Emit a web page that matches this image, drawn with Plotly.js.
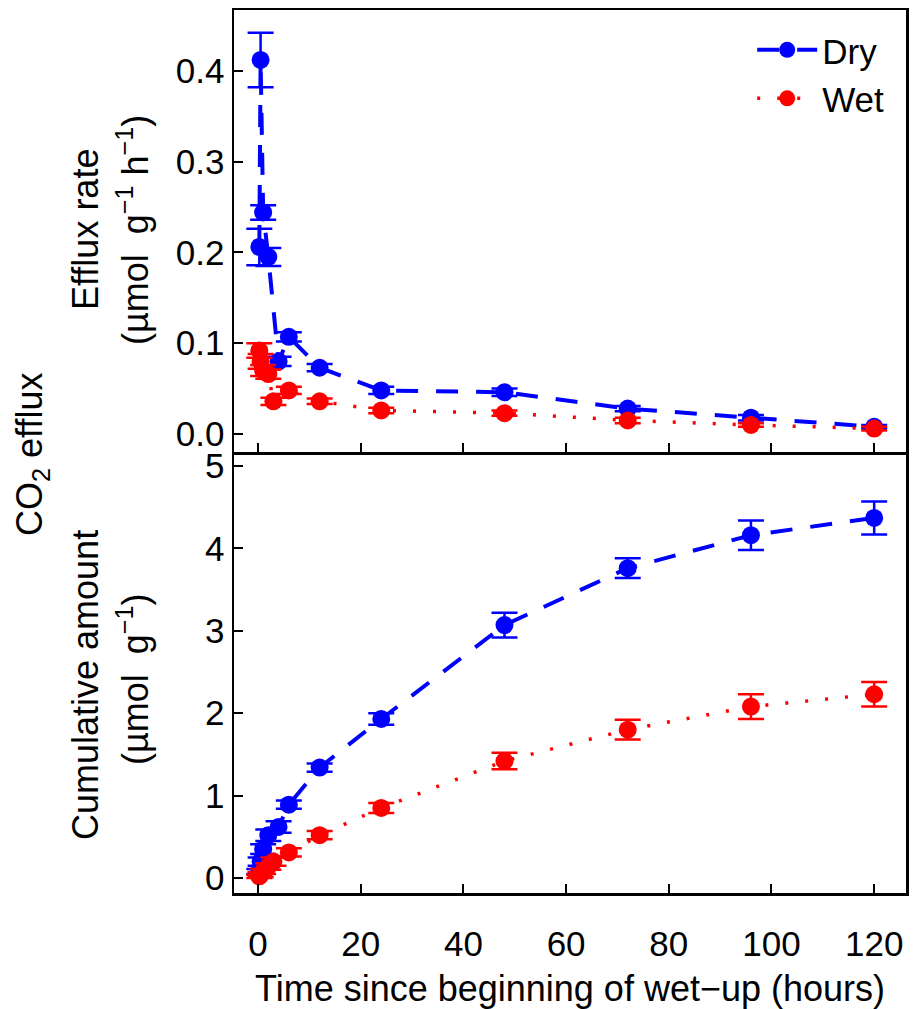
<!DOCTYPE html>
<html>
<head>
<meta charset="utf-8">
<script src="https://cdn.plot.ly/plotly-3.0.1.min.js"></script>
<style>
html,body{margin:0;padding:0;background:#fff;}
#chart{width:913px;height:1009px;}
</style>
</head>
<body>
<div id="chart"></div>
<script>
// ---- data ----
const timeDry = [0.25, 0.5, 1, 2, 4, 6, 12, 24, 48, 72, 96, 120];
const timeWet = [0.25, 0.5, 1, 2, 3, 6, 12, 24, 48, 72, 96, 120];

const rateDry    = [0.206, 0.412, 0.244, 0.195, 0.080, 0.107, 0.073, 0.048, 0.046, 0.028, 0.018, 0.008];
const rateDryErr = [0.020, 0.030, 0.008, 0.010, 0.005, 0.005, 0.004, 0.004, 0.004, 0.003, 0.003, 0.002];
const rateWet    = [0.092, 0.080, 0.070, 0.066, 0.036, 0.048, 0.036, 0.026, 0.023, 0.015, 0.010, 0.006];
const rateWetErr = [0.008, 0.008, 0.006, 0.005, 0.004, 0.004, 0.003, 0.003, 0.003, 0.003, 0.002, 0.002];

const cumDry    = [0.08, 0.20, 0.35, 0.52, 0.62, 0.89, 1.34, 1.93, 3.07, 3.76, 4.16, 4.37];
const cumDryErr = [0.03, 0.05, 0.06, 0.07, 0.07, 0.05, 0.05, 0.07, 0.15, 0.12, 0.18, 0.20];
const cumWet    = [0.02, 0.04, 0.08, 0.14, 0.20, 0.31, 0.52, 0.85, 1.42, 1.80, 2.08, 2.23];
const cumWetErr = [0.02, 0.03, 0.03, 0.04, 0.05, 0.05, 0.05, 0.06, 0.10, 0.12, 0.15, 0.15];

const xTicks = [0, 20, 40, 60, 80, 100, 120];

const BLUE = '#0000ff', RED = '#ff0000';
const dryLine = {color: BLUE, width: 4, dash: '22px,18px'};
const wetLine = {color: RED, width: 3.5, dash: '3px,17px'};

function errBar(arr, c){ return {type:'data', array:arr, visible:true, color:c, thickness:2.5, width:13}; }

const traces = [
  {x: timeDry, y: rateDry, xaxis:'x2', yaxis:'y2', name:'Dry', mode:'lines+markers',
   line: dryLine, marker:{color:BLUE, size:18}, error_y: errBar(rateDryErr, BLUE), showlegend:true},
  {x: timeWet, y: rateWet, xaxis:'x2', yaxis:'y2', name:'Wet', mode:'lines+markers',
   line: wetLine, marker:{color:RED, size:18}, error_y: errBar(rateWetErr, RED), showlegend:true},
  {x: timeDry, y: cumDry, xaxis:'x', yaxis:'y', name:'Dry', mode:'lines+markers',
   line: dryLine, marker:{color:BLUE, size:18}, error_y: errBar(cumDryErr, BLUE), showlegend:false},
  {x: timeWet, y: cumWet, xaxis:'x', yaxis:'y', name:'Wet', mode:'lines+markers',
   line: wetLine, marker:{color:RED, size:18}, error_y: errBar(cumWetErr, RED), showlegend:false}
];

const FONT = 'Liberation Sans, Arial, sans-serif';
const axCommon = {showline:true, linecolor:'#000', linewidth:2.5, mirror:true,
  ticks:'inside', ticklen:9, tickwidth:2, tickcolor:'#000', showgrid:false, zeroline:false,
  tickfont:{family:FONT, size:35, color:'#000'}};

const split = 441/883;

const layout = {
  width:913, height:1009,
  margin:{l:234, r:7, t:10, b:116},
  paper_bgcolor:'#fff', plot_bgcolor:'#fff',
  font:{family:FONT, size:35, color:'#000'},
  showlegend:true,
  legend:{x:0.975, y:0.988, xanchor:'right', yanchor:'top', bgcolor:'rgba(0,0,0,0)',
    font:{family:FONT, size:35, color:'#000'}, tracegroupgap:0, itemwidth:60},
  xaxis: Object.assign({}, axCommon, {domain:[0,1], anchor:'y', range:[-4.68,126.2], mirror:false,
    tickvals:xTicks, ticktext:xTicks.map(String), ticklabelstandoff:18,
    title:{text:'Time since beginning of wet\u2212up (hours)', font:{family:FONT, size:36}, standoff:16}}),
  yaxis: Object.assign({}, axCommon, {domain:[0,split], anchor:'x', range:[-0.182,5.17],
    tickvals:[0,1,2,3,4,5]}),
  xaxis2: Object.assign({}, axCommon, {domain:[0,1], anchor:'y2', matches:'x', range:[-4.68,126.2],
    tickvals:xTicks, showticklabels:false}),
  yaxis2: Object.assign({}, axCommon, {domain:[split,1], anchor:'x2', range:[-0.0198,0.467],
    tickvals:[0,0.1,0.2,0.3,0.4], ticktext:['0.0','0.1','0.2','0.3','0.4']}),
  annotations:[
    {xref:'paper', yref:'paper', x:(85-234)/672, y:(893-230)/883, text:'Efflux rate',
     textangle:-90, showarrow:false, xanchor:'center', yanchor:'middle', font:{family:FONT,size:36}},
    {xref:'paper', yref:'paper', x:(133-234)/672, y:(893-230)/883,
     text:'(\u00b5mol\u00a0\u00a0g<sup>\u22121</sup>\u00a0h<sup>\u22121</sup>)',
     textangle:-90, showarrow:false, xanchor:'center', yanchor:'middle', font:{family:FONT,size:36}},
    {xref:'paper', yref:'paper', x:(85-234)/672, y:(893-685)/883, text:'Cumulative amount',
     textangle:-90, showarrow:false, xanchor:'center', yanchor:'middle', font:{family:FONT,size:36}},
    {xref:'paper', yref:'paper', x:(133-234)/672, y:(893-680)/883,
     text:'(\u00b5mol\u00a0\u00a0g<sup>\u22121</sup>)',
     textangle:-90, showarrow:false, xanchor:'center', yanchor:'middle', font:{family:FONT,size:36}},
    {xref:'paper', yref:'paper', x:(32-234)/672, y:(893-455)/883,
     text:'CO<sub>2</sub> efflux',
     textangle:-90, showarrow:false, xanchor:'center', yanchor:'middle', font:{family:FONT,size:36}}
  ]
};

Plotly.newPlot('chart', traces, layout, {staticPlot:true, displayModeBar:false});
</script>
</body>
</html>
